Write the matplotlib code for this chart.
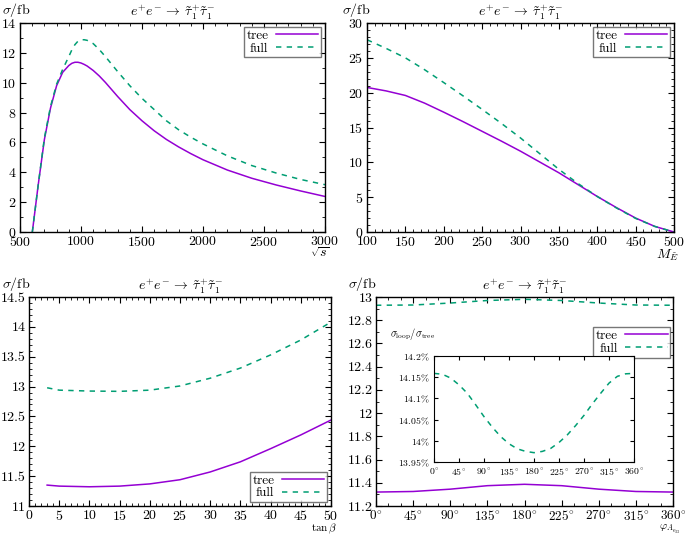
import matplotlib
matplotlib.use("Agg")
import matplotlib.pyplot as plt
from matplotlib.ticker import MultipleLocator, FuncFormatter, AutoMinorLocator

plt.rcParams['font.family'] = ['cmr10', 'DejaVu Serif']
plt.rcParams['mathtext.fontset'] = 'cm'
plt.rcParams['axes.formatter.use_mathtext'] = True
plt.rcParams['axes.unicode_minus'] = False

PURPLE = '#9400D3'
GREEN = '#009E73'
TITLE = r'$e^{+}e^{-}\,\rightarrow\,\tilde{\tau}_1^{+}\tilde{\tau}_1^{-}$'

# ---- panel 1: sigma vs sqrt(s)
s_x = [601, 650, 700, 750, 800, 850, 900, 925, 950, 975, 1000, 1025, 1050, 1100, 1150, 1200, 1300, 1400, 1500,
       1600, 1700, 1800, 1900, 2000, 2200, 2400, 2600, 2800, 3000]
s_tree = [0.0, 3.2, 6.2, 8.3, 9.8, 10.7, 11.15, 11.3, 11.37, 11.37, 11.32, 11.23, 11.12, 10.82, 10.45, 10.02, 9.08,
          8.2, 7.45, 6.78, 6.2, 5.7, 5.25, 4.84, 4.15, 3.6, 3.15, 2.75, 2.38]
s_full = [0.0, 3.2, 6.3, 8.4, 9.9, 10.9, 11.75, 12.2, 12.55, 12.78, 12.87, 12.88, 12.84, 12.62, 12.22, 11.75, 10.75,
          9.8, 8.95, 8.2, 7.45, 6.85, 6.35, 5.9, 5.1, 4.45, 3.95, 3.52, 3.17]

# ---- panel 2: sigma vs M_E
m_x = [100, 125, 150, 175, 200, 225, 250, 275, 300, 325, 350, 375, 400, 425, 450, 475, 500]
m_tree = [20.75, 20.25, 19.6, 18.5, 17.2, 15.85, 14.45, 13.05, 11.6, 10.05, 8.5, 6.8, 5.1, 3.5, 2.0, 0.8, 0.0]
m_full = [27.6, 26.35, 25.0, 23.3, 21.45, 19.55, 17.6, 15.6, 13.5, 11.25, 9.0, 6.95, 5.1, 3.45, 1.95, 0.8, 0.0]

# ---- panel 3: sigma vs tan(beta)
t_x = [3, 5, 10, 15, 20, 25, 30, 35, 40, 45, 50]
t_tree = [11.35, 11.333, 11.322, 11.333, 11.37, 11.44, 11.57, 11.74, 11.96, 12.19, 12.44]
t_full = [12.98, 12.94, 12.925, 12.92, 12.94, 13.01, 13.14, 13.31, 13.53, 13.78, 14.08]

# ---- panel 4: sigma vs phase
p_x = [0, 45, 90, 135, 180, 225, 270, 315, 360]
p_tree = [11.32, 11.325, 11.345, 11.375, 11.387, 11.375, 11.345, 11.325, 11.32]
p_full = [12.929, 12.931, 12.948, 12.97, 12.98, 12.97, 12.948, 12.931, 12.929]

# inset: ratio loop/tree in %
r_x = [0, 15, 30, 45, 60, 75, 90, 105, 120, 135, 150, 165, 180, 195, 210, 225, 240, 255, 270, 285, 300, 315, 330, 345, 360]
r_val = [14.159, 14.157, 14.148, 14.132, 14.112, 14.085, 14.057, 14.032, 14.010, 13.993, 13.981, 13.975, 13.972,
         13.975, 13.982, 13.996, 14.014, 14.036, 14.060, 14.087, 14.112, 14.136, 14.152, 14.158, 14.159]

W, H = 685, 535
fig = plt.figure(figsize=(6.85, 5.35), dpi=100)

def ax_px(l, t, r, b):
    return fig.add_axes([l / W, 1 - b / H, (r - l) / W, (b - t) / H])

TICK_FS = 10

def style(ax, xmaj, xmin_n, ymaj, ymin_n):
    ax.xaxis.set_major_locator(MultipleLocator(xmaj))
    ax.yaxis.set_major_locator(MultipleLocator(ymaj))
    ax.xaxis.set_minor_locator(AutoMinorLocator(xmin_n))
    ax.yaxis.set_minor_locator(AutoMinorLocator(ymin_n))
    ax.tick_params(which='both', direction='in', top=True, right=True, labelsize=TICK_FS)
    ax.tick_params(which='major', length=4, width=0.8, pad=2.5)
    ax.tick_params(which='minor', length=2, width=0.6)
    for sp in ax.spines.values():
        sp.set_linewidth(1.0)

def curves(ax, x, tree, full, loc):
    ax.plot(x, tree, color=PURPLE, lw=1.1, label='tree')
    ax.plot(x, full, color=GREEN, lw=1.1, dashes=(3.5, 3.5), label='full')
    leg = ax.legend(loc=loc, fontsize=9.5, frameon=True, fancybox=False, markerfirst=False,
                    handlelength=3.2, handletextpad=0.6, borderpad=0.2, labelspacing=0.05,
                    borderaxespad=0.3)
    leg.get_frame().set_edgecolor('#555555')
    leg.get_frame().set_linewidth(1.0)

def labels(ax, xl, ylx, axh, xly, xfs=10, xlx=1.015):
    ax.set_title(TITLE, fontsize=10, pad=5)
    ax.text(ylx, 1 + 13.0 / axh, r'$\sigma/\mathrm{fb}$', transform=ax.transAxes, fontsize=10,
            ha='left', va='center')
    ax.text(xlx, -xly / axh, xl, transform=ax.transAxes, fontsize=xfs, ha='right', va='top')

# panel 1
ax1 = ax_px(20, 23, 325, 232)
curves(ax1, s_x, s_tree, s_full, 'upper right')
ax1.set_xlim(500, 3000)
ax1.set_ylim(0, 14)
style(ax1, 500, 5, 2, 2)
labels(ax1, r'$\sqrt{s}$', -0.06, 209, 14.5)

# panel 2
ax2 = ax_px(367, 23, 674, 232)
curves(ax2, m_x, m_tree, m_full, 'upper right')
ax2.set_xlim(100, 500)
ax2.set_ylim(0, 30)
style(ax2, 50, 5, 5, 5)
labels(ax2, r'$M_{\tilde{E}}$', -0.08, 209, 15.5)

# panel 3
ax3 = ax_px(29, 297, 331, 506)
curves(ax3, t_x, t_tree, t_full, 'lower right')
ax3.set_xlim(0, 50)
ax3.set_ylim(11, 14.5)
style(ax3, 5, 5, 0.5, 5)
ax3.yaxis.set_major_formatter(FuncFormatter(lambda v, p: ('%g' % v)))
labels(ax3, r'$\tan\beta$', -0.09, 209, 15.5, xfs=8, xlx=1.02)

# panel 4
ax4 = ax_px(376, 297, 673, 506)
curves(ax4, p_x, p_tree, p_full, (0.73, 0.71))
ax4.set_xlim(0, 360)
ax4.set_ylim(11.2, 13.0)
style(ax4, 45, 3, 0.2, 2)
ax4.tick_params(axis='x', labelsize=9.5)
ax4.xaxis.set_major_formatter(FuncFormatter(lambda v, p: r'$%d^{\circ}$' % round(v)))
ax4.yaxis.set_major_formatter(FuncFormatter(lambda v, p: ('%g' % round(v, 2))))
labels(ax4, r'$\varphi_{A_{e_{33}}}$', -0.095, 209, 16.5, xfs=8, xlx=1.025)

# inset
axi = ax_px(434, 356, 634, 462)
axi.plot(r_x, r_val, color=GREEN, lw=1.1, dashes=(3.5, 3.5))
axi.set_xlim(0, 360)
axi.set_ylim(13.95, 14.2)
axi.xaxis.set_major_locator(MultipleLocator(45))
axi.yaxis.set_major_locator(MultipleLocator(0.05))
axi.tick_params(which='both', direction='in', top=True, right=True, labelsize=7, length=3, pad=3)
axi.xaxis.set_major_formatter(FuncFormatter(lambda v, p: r'$%d^{\circ}$' % round(v)))
axi.yaxis.set_major_formatter(FuncFormatter(lambda v, p: r'$%s\%%$' % ('%g' % round(v, 2))))
axi.text(-0.22, 1.13, r'$\sigma_{\mathrm{loop}}/\sigma_{\mathrm{tree}}$', transform=axi.transAxes,
         fontsize=7.5, ha='left', va='bottom')

fig.savefig('out.png', dpi=100)
